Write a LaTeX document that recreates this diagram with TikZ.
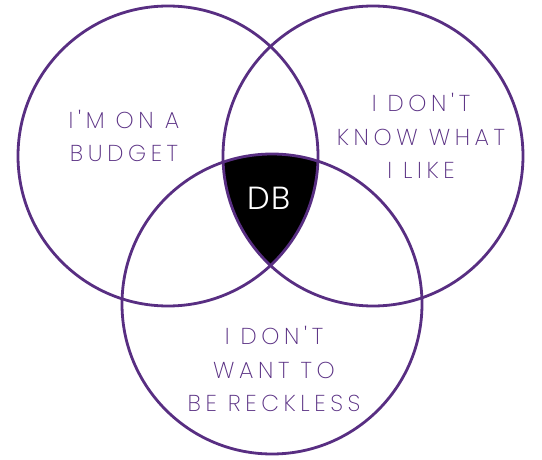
\documentclass[tikz,border=0pt]{standalone}
\usepackage{fontspec}
\setmainfont{Poppins}[UprightFont=* ExtraLight, LetterSpace=20, Ligatures=TeXOff]
\newfontfamily\dbfont{Poppins}[UprightFont=* Light, LetterSpace=6, Ligatures=TeXOff]
\definecolor{vpurple}{RGB}{88,46,130}
\begin{document}
\begin{tikzpicture}[x=1pt,y=-1pt,
  ring/.style={circle, draw=vpurple, line width=2.8pt, minimum size=300pt, inner sep=0pt},
  label/.style={text=vpurple, align=center, font=\fontsize{23}{33.5}\selectfont, inner sep=0pt},
  dblabel/.style={text=white, font=\dbfont\fontsize{32}{36}\selectfont, inner sep=0pt}]
\useasboundingbox (0,0) rectangle (542,460);
\coordinate (cl) at (168,156);
\coordinate (cr) at (373,156);
\coordinate (cb) at (272,304);
\begin{scope}
  \clip (cl) circle[radius=150pt];
  \clip (cr) circle[radius=150pt];
  \fill[black] (cb) circle[radius=150pt];
\end{scope}
\node[ring] (left) at (cl) {};
\node[ring] (right) at (cr) {};
\node[ring] (bottom) at (cb) {};
\node[label] (budget) at (124,136) {I'M ON A\\BUDGET};
\node[label] (know) at (421,136) {I DON'T\\KNOW WHAT\\I LIKE};
\node[label] (reckless) at (274,369) {I DON'T\\WANT TO\\BE RECKLESS};
\node[dblabel] (db) at (269,198) {DB};
\end{tikzpicture}
\end{document}
